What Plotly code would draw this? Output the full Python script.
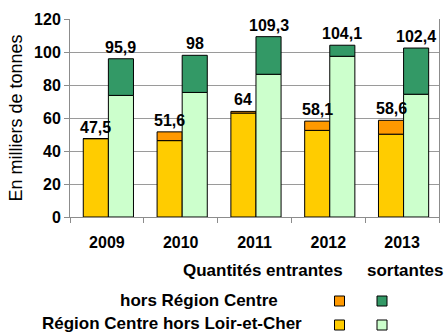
import plotly.graph_objects as go

# Years and tonnages (thousands of tonnes)
years = ["2009", "2010", "2011", "2012", "2013"]
in_centre = [47.5, 46.3, 63.0, 52.5, 50.2]     # incoming, Région Centre hors Loir-et-Cher
in_outside = [0.0, 5.3, 1.0, 5.6, 8.4]         # incoming, hors Région Centre
out_centre = [73.7, 75.5, 86.5, 97.4, 74.4]    # outgoing, Région Centre hors Loir-et-Cher
out_outside = [22.2, 22.5, 22.8, 6.7, 28.0]    # outgoing, hors Région Centre

C_YELLOW = "#FFCC00"
C_ORANGE = "#FF9900"
C_LIGHT = "#CCFFCC"
C_DARK = "#339966"
GREY = "#8c8c8c"
FONT = "Liberation Sans, Arial, sans-serif"

W, H = 446, 332
L, R, T, B = 70, 7, 19, 115
BAR_W = 0.34
OFF_IN, OFF_OUT = -0.32, 0.02

x = list(range(len(years)))


def fmt(v):
    v = round(v, 1)
    return str(int(v)) if v == int(v) else str(v).replace(".", ",")


def bar(y, base, off, color):
    return go.Bar(x=x, y=y, base=base, offset=off, width=BAR_W,
                  marker=dict(color=color, line=dict(color="black", width=1)),
                  showlegend=False, hoverinfo="skip")


fig = go.Figure()
fig.add_trace(bar(in_centre, [0] * 5, OFF_IN, C_YELLOW))
fig.add_trace(bar(in_outside, in_centre, OFF_IN, C_ORANGE))
fig.add_trace(bar(out_centre, [0] * 5, OFF_OUT, C_LIGHT))
fig.add_trace(bar(out_outside, out_centre, OFF_OUT, C_DARK))

in_tot = [a + b for a, b in zip(in_centre, in_outside)]
out_tot = [a + b for a, b in zip(out_centre, out_outside)]

bold16 = dict(family=FONT, size=16, color="black", weight="bold")

annotations = []
for i in x:
    for tot, off in ((in_tot[i], OFF_IN), (out_tot[i], OFF_OUT)):
        annotations.append(dict(x=i + off + BAR_W / 2, y=tot, xref="x", yref="y",
                                text="<b>" + fmt(tot) + "</b>", showarrow=False,
                                yanchor="bottom", yshift=1, font=bold16))

# legend table below the chart, placed in pixel terms
pw, ph = W - L - R, H - T - B


def px(xp):
    return (xp - L) / pw


def py(yp):
    return (H - B - yp) / ph


legend_font = dict(family=FONT, size=17, color="black", weight="bold")
annotations += [
    dict(x=px(344), y=py(270), text="Quantités entrantes", xanchor="right"),
    dict(x=px(366), y=py(270), text="sortantes", xanchor="left"),
    dict(x=px(279), y=py(300), text="hors Région Centre", xanchor="right"),
    dict(x=px(303), y=py(323), text="Région Centre hors Loir-et-Cher", xanchor="right"),
]
for a in annotations[-4:]:
    a.update(xref="paper", yref="paper", showarrow=False, yanchor="middle",
             font=legend_font, borderpad=0, text="<b>" + a["text"] + "</b>")

shapes = []
for cx, cy, col in ((339.5, 301, C_ORANGE), (382, 301, C_DARK),
                    (339.5, 325, C_YELLOW), (382, 325, C_LIGHT)):
    shapes.append(dict(type="rect", xref="paper", yref="paper",
                       x0=px(cx - 5), x1=px(cx + 5), y0=py(cy + 5), y1=py(cy - 5),
                       fillcolor=col, line=dict(color="black", width=1)))

fig.update_layout(
    width=W, height=H,
    margin=dict(l=L, r=R, t=T, b=B, autoexpand=False),
    paper_bgcolor="white", plot_bgcolor="white",
    barmode="overlay",
    font=dict(family=FONT, color="black"),
    annotations=annotations, shapes=shapes,
    xaxis=dict(range=[-0.5, 4.5], tickvals=x, ticktext=["<b>%s</b>" % y for y in years],
               ticks="", tickfont=dict(size=16), ticklabelstandoff=11,
               showline=True, linecolor=GREY, linewidth=1, showgrid=False,
               zeroline=False, fixedrange=True,
               minor=dict(tick0=-0.5, dtick=1, ticks="outside", ticklen=5,
                          tickcolor=GREY, showgrid=False)),
    yaxis=dict(range=[0, 120], dtick=20, ticks="outside", ticklen=5, tickcolor=GREY,
               tickfont=dict(size=16, weight="bold"),
               showline=True, linecolor=GREY, linewidth=1, mirror=True,
               showgrid=True, gridcolor="#9a9a9a", gridwidth=1, zeroline=False,
               title=dict(text="En milliers de tonnes", font=dict(size=18), standoff=6),
               automargin=False, fixedrange=True),
)

fig.write_html("out.html")
